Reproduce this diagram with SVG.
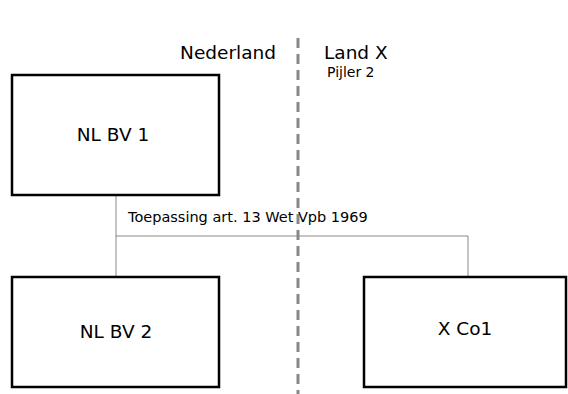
<svg xmlns="http://www.w3.org/2000/svg" width="568" height="394" viewBox="0 0 568 394">
<style>
.box{fill:#fff;stroke:#000;stroke-width:2.5}
.lbl{font-family:"DejaVu Sans",Verdana,sans-serif;fill:#000}
.big{font-size:18.5px}
.conn{fill:none;stroke:#888;stroke-width:1}
</style>
<rect width="568" height="394" fill="#fff"/>
<g id="connectors">
<polyline class="conn" points="116,195 116,277"/>
<polyline class="conn" points="116,236 468,236 468,277"/>
</g>
<g id="border">
<line x1="298" y1="38" x2="298" y2="394" stroke="#888" stroke-width="3" stroke-dasharray="10,6"/>
</g>
<g id="labels">
<text class="lbl big" x="228" y="59" text-anchor="middle">Nederland</text>
<text class="lbl big" x="324" y="59">Land X</text>
<text class="lbl" x="327" y="77" font-size="14">Pijler 2</text>
<text class="lbl" x="128" y="222" font-size="14.5">Toepassing art. 13 Wet Vpb 1969</text>
</g>
<g id="nlbv1">
<rect class="box" x="12" y="75" width="207" height="120"/>
<text class="lbl big" x="113" y="141" text-anchor="middle">NL BV 1</text>
</g>
<g id="nlbv2">
<rect class="box" x="12" y="277" width="207" height="110"/>
<text class="lbl big" x="116" y="338" text-anchor="middle">NL BV 2</text>
</g>
<g id="xco1">
<rect class="box" x="364" y="277" width="202" height="110"/>
<text class="lbl big" x="465" y="335" text-anchor="middle">X Co1</text>
</g>
</svg>
